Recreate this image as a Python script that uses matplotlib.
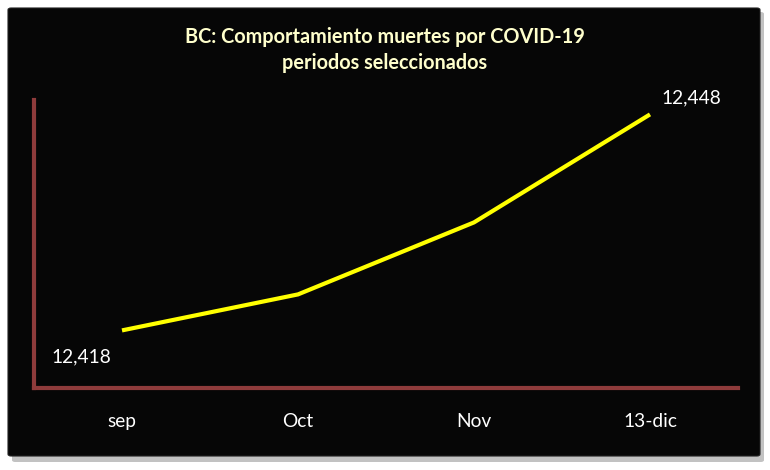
import matplotlib
matplotlib.use("Agg")
import matplotlib.pyplot as plt
from matplotlib.patches import FancyBboxPatch

categories = ["sep", "Oct", "Nov", "13-dic"]
deaths = [12418, 12423, 12433, 12448]
title = "BC: Comportamiento muertes por COVID-19\nperiodos seleccionados"

plt.rcParams['font.family'] = ['Lato', 'DejaVu Sans']

fig = plt.figure(figsize=(7.7, 4.7), dpi=100)
fig.patch.set_facecolor("white")

W, H = 770, 470
# shadow
shadow = FancyBboxPatch((12/W, 1 - 462/H), (752/W), (450/H),
                        boxstyle="round,pad=0,rounding_size=0.004",
                        transform=fig.transFigure, facecolor="#9a9a9a",
                        edgecolor="none", alpha=0.6, zorder=-2)
fig.patches.append(shadow)
panel = FancyBboxPatch((8/W, 1 - 456/H), (752/W), (448/H),
                       boxstyle="round,pad=0,rounding_size=0.004",
                       transform=fig.transFigure, facecolor="#060606",
                       edgecolor="#202020", linewidth=0.8, zorder=-1)
fig.patches.append(panel)

ax = fig.add_axes([34/W, 1 - 388/H, (738 - 34)/W, (388 - 100)/H])
ax.set_zorder(1)
ax.set_facecolor("none")
x = list(range(len(categories)))
ax.plot(x, deaths, color="#FFFF00", linewidth=3, solid_capstyle="butt", zorder=3)
ax.set_xlim(-0.5, 3.5)
ax.set_ylim(12410, 12450)

for s in ["top", "right"]:
    ax.spines[s].set_visible(False)
for s in ["left", "bottom"]:
    ax.spines[s].set_color("#8E3B3B")
    ax.spines[s].set_linewidth(3)
ax.set_yticks([])
ax.set_xticks(x)
ax.set_xticklabels(categories, color="white", fontsize=13.8)
ax.tick_params(axis="x", length=0, pad=18)

ax.annotate(f"{deaths[0]:,}", (x[0], deaths[0]), xytext=(-29, -19),
            textcoords="offset points", ha="center", va="center",
            color="white", fontsize=13.8)
ax.annotate(f"{deaths[-1]:,}", (x[-1], deaths[-1]), xytext=(30, 12),
            textcoords="offset points", ha="center", va="center",
            color="white", fontsize=13.8)

fig.text(0.5, 1 - 50/H, title, ha="center", va="center", color="#FFFFCC",
         fontsize=14.3, fontweight="bold", linespacing=1.4)

fig.savefig("out.png", dpi=100, facecolor=fig.get_facecolor())
